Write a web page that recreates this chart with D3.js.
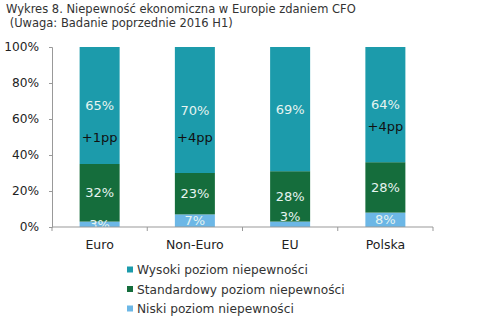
<!DOCTYPE html>
<html><head><meta charset="utf-8">
<script src="https://cdn.jsdelivr.net/npm/d3@7"></script>
<style>html,body{margin:0;padding:0;background:#fff;}svg{display:block;}</style>
</head><body>
<svg id="c" width="500" height="323"></svg>
<script>
const categories = ["Euro", "Non-Euro", "EU", "Polska"];
const seriesNames = ["Wysoki poziom niepewności", "Standardowy poziom niepewności", "Niski poziom niepewności"];
const low = [3, 7, 3, 8];
const standard = [32, 23, 28, 28];
const high = [65, 70, 69, 64];
const ppLabels = ["+1pp", "+4pp", "", "+4pp"];
const ppAt = [50, 50, null, 56];
const yTicks = [0, 20, 40, 60, 80, 100];
const colors = {low: "#6cb7e6", standard: "#156d3c", high: "#1c9bab"};

const svg = d3.select("#c");
const font = "DejaVu Sans, Verdana, sans-serif";
const m = {l: 52, r: 433, t: 47, b: 227};
const x = d3.scaleBand().domain(categories).range([m.l, m.r]).paddingInner(0.58).paddingOuter(0.29);
const xb = d3.scaleBand().domain(categories).range([m.l, m.r]);
const y = d3.scaleLinear().domain([0, 100]).range([m.b, m.t]);

svg.append("text").attr("x", 6).attr("y", 13).attr("font-family", font).attr("font-size", 11.5).attr("fill", "#333")
  .text("Wykres 8. Niepewność ekonomiczna w Europie zdaniem CFO");
svg.append("text").attr("x", 6).attr("y", 27).attr("font-family", font).attr("font-size", 11.5).attr("fill", "#333")
  .attr("xml:space", "preserve").text(" (Uwaga: Badanie poprzednie 2016 H1)");

const rows = categories.map((c, i) => ({cat: c, low: low[i], standard: standard[i], high: high[i]}));
const stack = d3.stack().keys(["low", "standard", "high"])(rows);

svg.append("defs").append("clipPath").attr("id", "pc").append("rect")
  .attr("x", m.l).attr("y", m.t - 2).attr("width", m.r - m.l).attr("height", m.b - m.t + 2);

const g = svg.append("g");
stack.forEach(layer => {
  g.selectAll(null).data(layer).enter().append("rect")
    .attr("x", d => x(d.data.cat)).attr("width", x.bandwidth())
    .attr("y", d => y(d[1])).attr("height", d => y(d[0]) - y(d[1]))
    .attr("fill", colors[layer.key]);
});

// value labels
const lab = svg.append("g").attr("clip-path", "url(#pc)");
stack.forEach(layer => {
  lab.selectAll(null).data(layer).enter().append("text")
    .attr("x", d => x(d.data.cat) + x.bandwidth() / 2)
    .attr("y", (d, i) => {
      let mid = (d[0] + d[1]) / 2;
      if (layer.key === "low" && d.data.cat === "EU") mid = d[1] + 3;
      return y(mid);
    })
    .attr("dy", "0.36em").attr("text-anchor", "middle")
    .attr("font-family", font).attr("font-size", 13).attr("fill", "#e6f4f0")
    .text(d => d.data[layer.key] + "%");
});

svg.selectAll(null).data(categories.filter((c, i) => ppLabels[i])).enter().append("text")
  .attr("x", c => x(c) + x.bandwidth() / 2)
  .attr("y", c => y(ppAt[categories.indexOf(c)]))
  .attr("dy", "0.36em").attr("text-anchor", "middle")
  .attr("font-family", font).attr("font-size", 13).attr("fill", "#111")
  .text(c => ppLabels[categories.indexOf(c)]);

// y axis
const ya = svg.append("g").attr("transform", `translate(${m.l},0)`)
  .call(d3.axisLeft(y).tickValues(yTicks).tickFormat(d => d + "%").tickSize(3).tickPadding(10));
ya.select(".domain").attr("stroke", "#999");
ya.selectAll(".tick line").attr("stroke", "#999");
ya.selectAll("text").attr("font-family", font).attr("font-size", 12.2).attr("fill", "#222");

// x axis
const xa = svg.append("g").attr("transform", `translate(0,${m.b})`);
xa.append("line").attr("x1", m.l).attr("x2", m.r).attr("stroke", "#999");
const bounds = categories.map(c => xb(c)).concat([m.r]);
xa.selectAll(null).data(bounds).enter().append("line")
  .attr("x1", d => d).attr("x2", d => d).attr("y1", 0).attr("y2", 4).attr("stroke", "#999");
xa.selectAll(null).data(categories).enter().append("text")
  .attr("x", c => xb(c) + xb.bandwidth() / 2).attr("y", 21.5)
  .attr("text-anchor", "middle").attr("font-family", font).attr("font-size", 12.5).attr("fill", "#222")
  .text(c => c);

// legend
const keys = ["high", "standard", "low"];
const lg = svg.append("g");
keys.forEach((k, i) => {
  const yy = 270 + i * 19.5;
  lg.append("rect").attr("x", 127).attr("y", yy - 3.5).attr("width", 6).attr("height", 6).attr("fill", colors[k]);
  lg.append("text").attr("x", 137).attr("y", yy).attr("dy", "0.35em")
    .attr("font-family", font).attr("font-size", 12.2).attr("fill", "#333").text(seriesNames[i]);
});
</script>
</body></html>
